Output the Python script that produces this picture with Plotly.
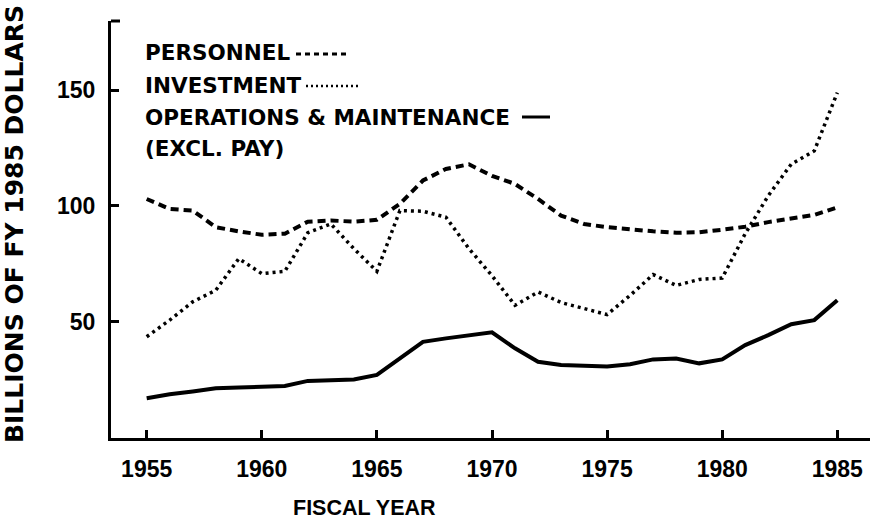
import plotly.graph_objects as go

years = list(range(1955, 1986))

personnel = [103, 98.7, 98, 90.8, 89, 87.5, 88, 93.2, 93.7, 93.2, 94, 100.9, 111, 116, 118,
             113, 109.5, 103, 95.8, 92.2, 90.8, 89.7, 89, 88.4, 88.6, 89.7, 91, 93, 94.4, 96.1, 99.4]

investment = [43.4, 50.6, 58.5, 63.5, 77.2, 70.7, 71.7, 88.4, 92.2, 81.5, 71.7, 98, 97.7, 95.1, 81.5,
              69.8, 57, 62.8, 58.2, 55.6, 53, 61.3, 70.3, 65.6, 68.2, 68.8, 88, 104.4, 118.1, 123.8, 149]

operations = [16.8, 18.5, 19.7, 21.1, 21.4, 21.7, 22.1, 24.3, 24.6, 24.9, 26.9, 34, 41.2, 42.7, 43.8,
              45.3, 38.4, 32.6, 31.2, 30.9, 30.5, 31.5, 33.6, 34, 31.9, 33.6, 39.8, 44.1, 48.8, 50.6, 59.2]

x_ticks = [1955, 1960, 1965, 1970, 1975, 1980, 1985]
y_ticks = [50, 100, 150]

legend_rows = ["PERSONNEL", "INVESTMENT", "OPERATIONS &amp; MAINTENANCE", "(EXCL. PAY)"]

W, H = 872, 527
L, R, T, B = 111, 2, 21, 89
PW, PH = W - L - R, H - T - B


def px(x):
    return (x - L) / PW


def py(y):
    return (H - B - y) / PH


fig = go.Figure()
fig.add_trace(go.Scatter(x=years, y=personnel, mode="lines",
                         line=dict(color="black", width=4, dash="8px,5px")))
fig.add_trace(go.Scatter(x=years, y=investment, mode="lines",
                         line=dict(color="black", width=3.5, dash="3px,4px")))
fig.add_trace(go.Scatter(x=years, y=operations, mode="lines",
                         line=dict(color="black", width=4)))

wide = "DejaVu Sans"
tight = "Liberation Sans, Arial"

fig.update_layout(
    width=W, height=H,
    margin=dict(l=L, r=R, t=T, b=B),
    paper_bgcolor="white", plot_bgcolor="white",
    showlegend=False,
    xaxis=dict(range=[1953.45, 1986.42], tickvals=x_ticks, ticks="inside", ticklen=8, tickwidth=3,
               tickcolor="black", showline=True, linewidth=3, linecolor="black", showgrid=False,
               zeroline=False, ticklabelstandoff=8,
               tickfont=dict(family=tight, size=23, color="black", weight="bold")),
    yaxis=dict(range=[-0.4, 180], tickvals=y_ticks, ticks="inside", ticklen=8, tickwidth=3,
               tickcolor="black", showline=True, linewidth=3, linecolor="black", showgrid=False,
               zeroline=False, ticklabelstandoff=8,
               tickfont=dict(family=tight, size=23, color="black", weight="bold")),
)

# axis titles
fig.add_annotation(text="<b>BILLIONS OF FY 1985 DOLLARS</b>", textangle=-90, xref="paper", yref="paper",
                   x=px(14), y=py(224), xanchor="center", yanchor="middle", showarrow=False,
                   font=dict(family=wide, size=25, color="black"))
fig.add_annotation(text="<b>FISCAL YEAR</b>", xref="paper", yref="paper",
                   x=px(364), y=py(508), xanchor="center", yanchor="middle", showarrow=False,
                   font=dict(family=tight, size=21.5, color="black"))

# legend block
row_y = [53, 85, 117, 148]
for label, yy in zip(legend_rows, row_y):
    fig.add_annotation(text="<b>" + label + "</b>", xref="paper", yref="paper",
                       x=px(143), y=py(yy), xanchor="left", yanchor="middle", showarrow=False,
                       font=dict(family=wide, size=21.5, color="black"))

samples = [(296, 350, 54, 3, "5px,4px"), (306, 360, 86, 2.5, "2px,3px"), (522, 550, 117, 3, "solid")]
for x0, x1, yy, w, d in samples:
    fig.add_shape(type="line", xref="paper", yref="paper", x0=px(x0), x1=px(x1), y0=py(yy), y1=py(yy),
                  line=dict(color="black", width=w, dash=d))

# small corner at top of the vertical axis
fig.add_shape(type="line", xref="paper", yref="paper", x0=px(L), x1=px(120), y0=1, y1=1,
              line=dict(color="black", width=3))

fig.write_html("out.html", config={"displayModeBar": False},
               post_script="document.body.style.margin='0';")
